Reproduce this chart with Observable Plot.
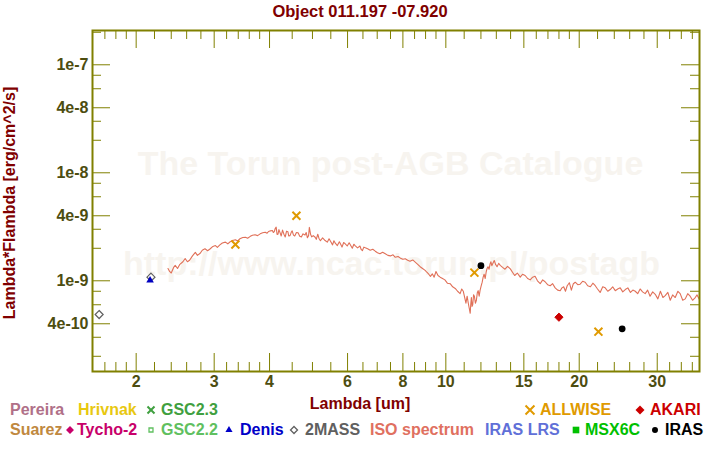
<!DOCTYPE html>
<html><head><meta charset="utf-8">
<script src="https://cdn.jsdelivr.net/npm/d3@7"></script>
<script src="https://cdn.jsdelivr.net/npm/@observablehq/plot@0.6"></script>
<style>
body{margin:0;background:#fff;}
#wrap{position:relative;width:720px;height:450px;font-family:"Liberation Sans",Arial,sans-serif;font-weight:bold;}
#wrap > svg{position:absolute;left:0;top:0;}
.t{position:absolute;white-space:nowrap;font-size:16px;line-height:16px;font-weight:bold;}
.s{position:absolute;width:12px;height:12px;}
</style></head><body><div id="wrap"></div>
<script>
// ---------- data ----------
const titleText = "Object 011.197 -07.920";
const xLabel = "Lambda [um]";
const yLabel = "Lambda*Flambda [erg/cm^2/s]";
const watermark = ["The Torun post-AGB Catalogue", "http://www.ncac.torun.pl/postagb"];

// ISO spectrum: [wavelength (um), flux in units of 1e-9 erg/cm^2/s]
const isoSpectrum = [
[2.36,1.30],[2.38,1.22],[2.40,1.18],[2.43,1.33],[2.45,1.39],[2.48,1.30],[2.51,1.42],[2.55,1.50],[2.58,1.61],[2.61,1.50],
[2.64,1.55],[2.68,1.70],[2.72,1.83],[2.75,1.72],[2.79,1.80],[2.82,1.92],[2.86,1.98],[2.90,1.90],[2.94,1.98],[2.98,2.08],
[3.02,2.12],[3.05,2.04],[3.09,2.15],[3.13,2.24],[3.18,2.28],[3.22,2.20],[3.26,2.30],[3.30,2.36],[3.35,2.40],[3.39,2.34],
[3.43,2.45],[3.48,2.52],[3.53,2.53],[3.57,2.48],[3.62,2.58],[3.66,2.64],[3.71,2.67],[3.76,2.62],[3.81,2.72],[3.86,2.78],
[3.91,2.82],[3.95,2.76],[3.98,2.86],[4.02,2.90],[4.06,2.92],
[4.08,2.80],[4.10,2.85],[4.12,3.05],[4.14,3.14],[4.16,2.68],[4.18,2.70],[4.20,2.98],[4.23,2.75],[4.25,2.60],[4.28,2.95],
[4.31,2.70],[4.34,2.55],[4.37,2.88],[4.40,2.85],[4.42,2.60],[4.45,2.62],[4.48,2.82],[4.50,2.90],[4.53,2.65],[4.56,2.60],
[4.60,2.80],[4.64,2.78],[4.68,2.58],[4.72,2.55],[4.76,2.72],[4.81,2.65],[4.84,2.80],[4.87,2.50],[4.90,2.62],[4.92,3.12],
[4.95,2.70],[4.98,2.55],[5.02,2.62],
[5.07,2.53],[5.10,2.42],[5.14,2.70],[5.17,2.48],[5.21,2.35],[5.27,2.50],[5.34,2.36],[5.40,2.28],[5.45,2.45],[5.50,2.30],
[5.55,2.15],[5.59,2.35],[5.63,2.23],[5.69,2.12],[5.75,2.30],[5.79,2.18],[5.83,2.05],[5.88,2.26],[5.93,2.20],[5.99,2.10],
[6.05,2.25],[6.10,2.12],[6.15,2.00],[6.20,2.18],[6.24,2.12],[6.32,2.02],[6.40,2.10],[6.44,1.95],[6.48,1.90],[6.53,2.05],
[6.58,2.02],[6.66,1.98],[6.75,1.92],[6.84,1.96],[6.93,1.88],[7.01,1.82],[7.10,1.78],[7.20,1.84],[7.30,1.78],[7.40,1.72],
[7.50,1.70],[7.60,1.74],[7.69,1.65],[7.80,1.68],[7.90,1.62],[8.00,1.58],[8.10,1.60],[8.20,1.55],[8.30,1.52],[8.42,1.56],
[8.53,1.49],[8.64,1.42],[8.75,1.35],[8.86,1.30],[8.98,1.25],
[9.06,1.20],[9.15,1.15],[9.23,1.10],[9.32,1.16],[9.41,1.08],[9.50,1.22],[9.60,1.12],[9.71,1.08],[9.83,1.05],[9.95,1.02],
[10.08,0.95],[10.23,0.94],[10.36,0.88],[10.50,0.85],[10.63,0.80],[10.77,0.76],[10.86,0.84],[10.95,0.80],[11.03,0.70],[11.10,0.62],
[11.17,0.72],[11.23,0.63],[11.29,0.56],[11.35,0.50],[11.38,0.60],[11.42,0.70],[11.46,0.58],[11.50,0.60],[11.55,0.74],[11.60,0.72],
[11.66,0.62],[11.72,0.66],[11.78,0.78],[11.83,0.81],[11.89,0.72],[11.95,0.82],[12.02,0.90],[12.08,0.97],
[12.14,1.08],[12.20,1.15],[12.27,1.05],[12.33,1.20],[12.39,1.30],[12.45,1.35],[12.52,1.28],[12.59,1.44],[12.64,1.50],[12.70,1.38],
[12.78,1.46],[12.86,1.54],[12.95,1.42],[13.05,1.35],[13.16,1.45],[13.27,1.39],[13.43,1.33],[13.60,1.28],[13.78,1.36],[13.98,1.29],
[14.14,1.20],[14.30,1.12],[14.50,1.18],[14.72,1.08],[14.90,1.15],[15.10,1.12],[15.30,1.05],[15.50,1.02],[15.70,1.08],[15.90,1.10],
[16.10,1.00],[16.33,0.94],[16.54,1.02],[16.75,0.98],[16.97,0.92],[17.20,0.90],[17.42,0.94],[17.65,0.86],[17.88,0.82],[18.12,0.81],
[18.28,0.86],[18.45,0.88],[18.62,0.80],[18.79,0.90],[19.00,0.96],[19.20,0.82],[19.40,0.94],[19.59,0.97],
[19.85,0.92],[20.10,0.93],[20.36,0.99],[20.63,0.97],[20.90,0.90],[21.20,0.88],[21.47,0.95],[21.74,0.90],[22.00,0.84],[22.30,0.78],
[22.60,0.88],[22.89,0.86],[23.20,0.80],[23.50,0.83],[23.80,0.88],[24.12,0.81],[24.43,0.84],[24.75,0.86],[25.08,0.79],[25.41,0.83],
[25.75,0.86],[26.10,0.78],[26.43,0.82],[26.76,0.80],[27.10,0.76],[27.45,0.84],[27.80,0.79],[28.18,0.76],[28.54,0.82],[28.90,0.72],
[29.30,0.79],[29.69,0.75],[30.10,0.68],[30.50,0.80],[30.90,0.70],[31.27,0.73],[31.70,0.78],[32.10,0.66],[32.50,0.74],[32.94,0.70],
[33.40,0.80],[33.80,0.76],[34.25,0.66],[34.70,0.68],[35.15,0.76],[35.60,0.72],[36.05,0.66],[36.55,0.70],[36.90,0.74],[37.30,0.68]
];

const allwiseWl = [3.35, 4.6, 11.6, 22.1];
const allwiseF  = [2.17e-9, 4.0e-9, 1.19e-9, 3.38e-10];
const irasWl = [12, 25];
const irasF  = [1.38e-9, 3.59e-10];
const akariWl = [18];
const akariF  = [4.6e-10];
const twomassWl = [1.65, 2.16];
const twomassF  = [4.87e-10, 1.08e-9];
const denisWl = [2.15];
const denisF  = [1.01e-9];

const xTicksMajor = [2,3,4,6,8,10,15,20,30];
const xTickLabels = ["2","3","4","6","8","10","15","20","30"];
const xTicksMinor = [1.7,1.8,1.9,2.2,2.4,2.6,2.8,3.2,3.4,3.6,3.8,4.5,5,5.5,6.5,7,7.5,8.5,9,9.5,11,12,13,14,16,17,18,19,22,24,26,28,32,34,36];
const yTicksMajor = [1e-7, 4e-8, 1e-8, 4e-9, 1e-9, 4e-10];
const yTickLabels = ["1e-7","4e-8","1e-8","4e-9","1e-9","4e-10"];
const yTicksMinor = [2e-7, 8e-8, 6e-8, 3e-8, 2e-8, 8e-9, 6e-9, 3e-9, 2e-9, 8e-10, 6e-10, 3e-10, 2e-10];

const legendRow1 = [
  {label:"Pereira", color:"#b07088"},
  {label:"Hrivnak", color:"#e8c810"},
  {label:"GSC2.3", color:"#40a040", sym:"times"},
  {label:"ALLWISE", color:"#e09a00", sym:"timesL"},
  {label:"AKARI", color:"#cc0000", sym:"diamondL"}
];
const legendRow2 = [
  {label:"Suarez", color:"#c08840"},
  {label:"Tycho-2", color:"#c8006a", sym:"diamond"},
  {label:"GSC2.2", color:"#60c060", sym:"square2"},
  {label:"Denis", color:"#0000c8", sym:"triangle"},
  {label:"2MASS", color:"#606060", sym:"diamond2"},
  {label:"ISO spectrum", color:"#e07060"},
  {label:"IRAS LRS", color:"#6070d8"},
  {label:"MSX6C", color:"#00c000", sym:"square"},
  {label:"IRAS", color:"#000000", sym:"circle"}
];

// ---------- layout ----------
const W = 720, H = 450, mL = 92, mR = 21, mT = 30, mB = 79;
const fw = W - mL - mR, fh = H - mT - mB;
const axisColor = "#808000", tickTextColor = "#4d4d10", titleColor = "#800000";
const row1X = [[null,10],[null,78],[151,161],[530,540],[640,650]];
const row2X = [[null,10],[70,77],[151,161],[229,240],[294,305],[null,370],[null,485],[576,585],[655,665]];

const iso = isoSpectrum.map(([w, f]) => ({wl: w, f: f * 1e-9}));
const pts = (wl, f) => wl.map((w, i) => ({wl: w, f: f[i]}));

const chart = Plot.plot({
  width: W, height: H,
  marginLeft: mL, marginRight: mR, marginTop: mT, marginBottom: mB,
  style: {fontFamily: "Liberation Sans, Arial, sans-serif"},
  x: {type: "log", domain: [1.594, 37.37], axis: null},
  y: {type: "log", domain: [1.446e-10, 2.077e-7], axis: null},
  marks: [
    Plot.text([watermark[0]], {frameAnchor: "top-left", dx: 298, dy: 134, text: d => d, fontSize: 34, fontWeight: "bold", fill: "#f7f4ef", textAnchor: "middle", lineAnchor: "middle"}),
    Plot.text([watermark[1]], {frameAnchor: "top-left", dx: 299, dy: 234, text: d => d, fontSize: 34, fontWeight: "bold", fill: "#f7f4ef", textAnchor: "middle", lineAnchor: "middle"}),
    Plot.tickX(xTicksMajor, {x: d => d, insetTop: fh - 18, stroke: axisColor}),
    Plot.tickX(xTicksMinor, {x: d => d, insetTop: fh - 9, stroke: axisColor}),
    Plot.tickX(xTicksMajor, {x: d => d, insetBottom: fh - 18, stroke: axisColor}),
    Plot.tickX(xTicksMinor, {x: d => d, insetBottom: fh - 9, stroke: axisColor}),
    Plot.tickY(yTicksMajor, {y: d => d, insetRight: fw - 18, stroke: axisColor}),
    Plot.tickY(yTicksMinor, {y: d => d, insetRight: fw - 9, stroke: axisColor}),
    Plot.tickY(yTicksMajor, {y: d => d, insetLeft: fw - 18, stroke: axisColor}),
    Plot.tickY(yTicksMinor, {y: d => d, insetLeft: fw - 9, stroke: axisColor}),
    Plot.line(iso, {x: "wl", y: "f", stroke: "#e07058", strokeWidth: 1.1}),
    Plot.dot(pts(twomassWl, twomassF), {x: "wl", y: "f", symbol: "diamond2", r: 3.6, stroke: "#606060", strokeWidth: 1.2, fill: "none"}),
    Plot.dot(pts(denisWl, denisF), {x: "wl", y: "f", symbol: "triangle", r: 2.8, fill: "#0000c0", stroke: "none"}),
    Plot.dot(pts(allwiseWl, allwiseF), {x: "wl", y: "f", symbol: "times", r: 3.7, stroke: "#e09a00", strokeWidth: 2}),
    Plot.dot(pts(akariWl, akariF), {x: "wl", y: "f", symbol: "diamond2", r: 3.7, fill: "#cc0000", stroke: "#cc0000", strokeWidth: 1}),
    Plot.dot(pts(irasWl, irasF), {x: "wl", y: "f", symbol: "circle", r: 3.4, fill: "#000", stroke: "none"}),
    Plot.text(xTicksMajor, {x: d => d, frameAnchor: "bottom", lineAnchor: "top", dy: 4, text: (d, i) => xTickLabels[i], fill: tickTextColor, fontSize: 16, fontWeight: "bold"}),
    Plot.text(yTicksMajor, {y: d => d, frameAnchor: "left", textAnchor: "end", dx: -4, text: (d, i) => yTickLabels[i], fill: tickTextColor, fontSize: 16, fontWeight: "bold"}),
    Plot.frame({stroke: axisColor, strokeWidth: 2})
  ]
});

const wrap = document.getElementById("wrap");
wrap.appendChild(chart);

function addText(txt, css) {
  const d = document.createElement("div");
  d.className = "t";
  d.textContent = txt;
  Object.assign(d.style, css);
  wrap.appendChild(d);
  return d;
}
addText(titleText, {left: "0px", top: "3px", width: "720px", textAlign: "center", color: titleColor, fontSize: "16.5px"});
addText(xLabel, {left: "0px", top: "396px", width: "720px", textAlign: "center", color: titleColor});
addText(yLabel, {left: "9.5px", top: "203px", color: titleColor, transform: "translate(-50%,-50%) rotate(-90deg)"});

// legend symbols as small inline svgs
const symMap = {times: d3.symbolTimes, timesL: d3.symbolTimes, diamond: d3.symbolDiamond2, diamondL: d3.symbolDiamond2, diamond2: d3.symbolDiamond2, square2: d3.symbolSquare2, triangle: d3.symbolTriangle, square: d3.symbolSquare, circle: d3.symbolCircle};
const symSize = {times: 34, timesL: 54, diamond: 40, diamondL: 52, diamond2: 31, square2: 20, triangle: 22, square: 44, circle: 28};
const strokedSyms = new Set(["times", "timesL", "diamond2", "square2"]);
function drawLegend(items, xs, top, cy) {
  items.forEach((it, i) => {
    const [sx, tx] = xs[i];
    if (it.sym) {
      const s = d3.create("svg").attr("class", "s").attr("width", 12).attr("height", 12)
        .attr("viewBox", "-6 -6 12 12").style("left", (sx - 6) + "px").style("top", (cy - 6) + "px");
      const stroked = strokedSyms.has(it.sym);
      s.append("path")
        .attr("d", d3.symbol(symMap[it.sym], symSize[it.sym])())
        .attr("fill", stroked ? "none" : it.color)
        .attr("stroke", stroked ? it.color : "none")
        .attr("stroke-width", it.sym.startsWith("times") ? 2 : 1.3);
      wrap.appendChild(s.node());
    }
    addText(it.label, {left: tx + "px", top: top + "px", color: it.color});
  });
}
drawLegend(legendRow1, row1X, 402, 410);
drawLegend(legendRow2, row2X, 422, 430);
</script></body></html>
